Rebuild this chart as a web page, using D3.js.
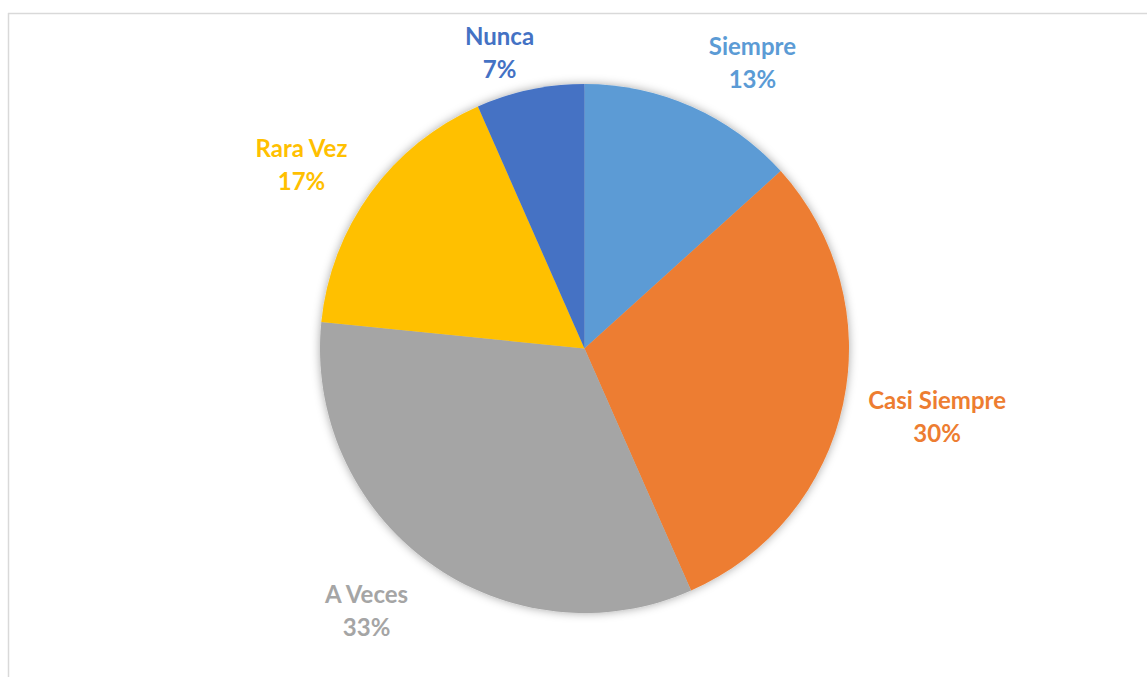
<!DOCTYPE html>
<html>
<head>
<meta charset="utf-8">
<script src="https://cdn.jsdelivr.net/npm/d3@7"></script>
<style>
  html, body { margin: 0; padding: 0; background: #fff; }
  svg { display: block; }
</style>
</head>
<body>
<div id="chart"></div>
<script>
(function() {

const width = 1147,
      height = 677

// data (percent of answers)
const categories = ['Siempre', 'Casi Siempre', 'A Veces', 'Rara Vez', 'Nunca']
const values = [13.3, 30.1, 33.2, 16.8, 6.6]
const colors = ['#5B9BD5', '#ED7D31', '#A5A5A5', '#FFC000', '#4472C4']

// small label nudges, like Excel's best fit placement
const labelNudge = [[32, 20], [25, -2], [-21, -10], [-12, 12], [-16, 31]]

const cx = 584.5,
      cy = 348.5,
      radius = 264.5,
      labelRadius = 335,
      lineGap = 33

const svg = d3.select('#chart')
  .append('svg')
  .attr('width', width)
  .attr('height', height)

// chart area border, only top and left show
svg.append('line')
  .attr('x1', 8).attr('y1', 13.5)
  .attr('x2', width).attr('y2', 13.5)
  .attr('stroke', '#d9d9d9')
  .attr('stroke-width', 1.5)
svg.append('line')
  .attr('x1', 8.5).attr('y1', 13)
  .attr('x2', 8.5).attr('y2', height)
  .attr('stroke', '#d9d9d9')
  .attr('stroke-width', 1.5)

const defs = svg.append('defs')
const shadow = defs.append('filter')
  .attr('id', 'shadow')
  .attr('x', '-10%').attr('y', '-10%')
  .attr('width', '120%').attr('height', '120%')
shadow.append('feDropShadow')
  .attr('dx', 0)
  .attr('dy', 0)
  .attr('stdDeviation', 5)
  .attr('flood-color', '#000')
  .attr('flood-opacity', 0.35)

const data = categories.map(function(c, i) {
  return { name: c, value: values[i], color: colors[i], nudge: labelNudge[i] }
})

const pie = d3.pie()
  .value(function(d) { return d.value })
  .sort(null)

const arc = d3.arc()
  .innerRadius(0)
  .outerRadius(radius)

const g = svg.append('g')
  .attr('transform', 'translate(' + cx + ',' + cy + ')')

const total = d3.sum(values)
const arcs = pie(data)

g.append('g')
  .attr('filter', 'url(#shadow)')
  .selectAll('path')
  .data(arcs)
  .enter()
  .append('path')
  .attr('d', arc)
  .attr('fill', function(d) { return d.data.color })

const labels = g.selectAll('.label')
  .data(arcs)
  .enter()
  .append('text')
  .attr('class', 'label')
  .attr('text-anchor', 'middle')
  .style('font-family', 'Lato, "Open Sans", sans-serif')
  .style('font-weight', 'bold')
  .style('font-size', '24px')
  .attr('fill', function(d) { return d.data.color })
  .attr('transform', function(d) {
    const a = (d.startAngle + d.endAngle) / 2
    const x = Math.sin(a) * labelRadius + d.data.nudge[0]
    const y = -Math.cos(a) * labelRadius + d.data.nudge[1]
    return 'translate(' + x + ',' + y + ')'
  })

labels.append('tspan')
  .attr('x', 0)
  .attr('y', -lineGap / 2)
  .attr('dominant-baseline', 'central')
  .text(function(d) { return d.data.name })

labels.append('tspan')
  .attr('x', 0)
  .attr('y', lineGap / 2)
  .attr('dominant-baseline', 'central')
  .text(function(d) { return Math.round(d.data.value / total * 100) + '%' })

})()
</script>
</body>
</html>
